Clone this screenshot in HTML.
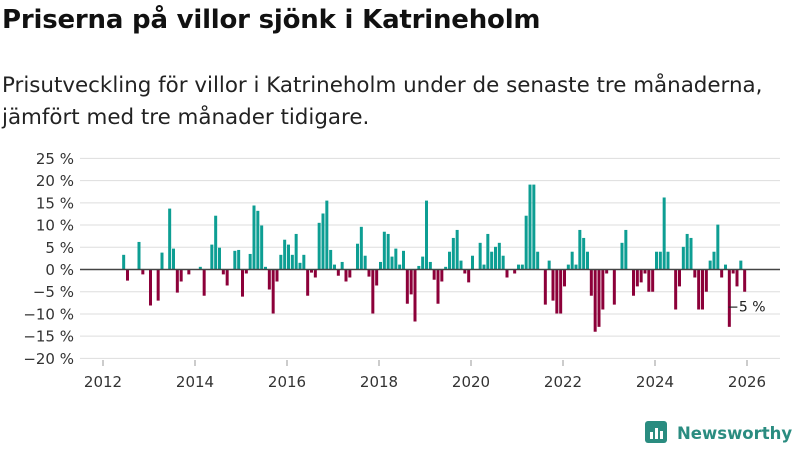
<!DOCTYPE html>
<html><head><meta charset="utf-8">
<style>
body{margin:0;background:#fff;font-family:"DejaVu Sans","Liberation Sans",sans-serif;}
#wrap{position:relative;width:800px;height:450px;overflow:hidden;}
h1{position:absolute;left:2px;top:5px;margin:0;font-size:26px;font-weight:bold;color:#111;letter-spacing:-0.2px;}
.sub{position:absolute;left:2px;top:70px;margin:0;font-size:21.4px;line-height:32px;color:#222;}
svg{position:absolute;left:0;top:0;}
</style></head><body>
<div id="wrap">
<h1>Priserna på villor sjönk i Katrineholm</h1>
<p class="sub">Prisutveckling för villor i Katrineholm under de senaste tre månaderna,<br>jämfört med tre månader tidigare.</p>
<svg id="chart" width="800" height="450"></svg>
</div>
<script>
const startYear = 2012;
const startMonth = 5; // June (0-based)
const values = [
3.3,-2.5,0,0,6.2,-1.1,0,-8.1,0,-7,3.8,0,13.7,4.7,-5.2,-2.7,0,-1.1,0,0,0.6,-5.9,0,5.6,12.1,4.9,-1.1,-3.6,0,4.2,4.4,-6.1,-0.9,3.5,14.4,13.2,9.9,0.6,-4.5,-9.9,-2.7,3.3,6.7,5.6,3.3,8,1.5,3.3,-5.9,-0.7,-1.8,10.5,12.6,15.5,4.4,1.1,-1.4,1.7,-2.7,-1.8,0,5.8,9.6,3.1,-1.6,-9.9,-3.6,1.7,8.5,8,2.9,4.7,1.1,4.2,-7.7,-5.6,-11.7,0.8,2.9,15.5,1.7,-2.3,-7.7,-2.7,0.6,4,7.1,8.9,2,-0.9,-2.9,3.1,0,6,1.1,8,4,5.1,6,3.1,-1.8,0,-0.9,1.1,1.1,12.1,19.1,19.1,4,0,-7.9,2,-7,-9.9,-9.9,-3.8,1.1,4,1.1,8.9,7.1,4,-5.9,-14,-12.9,-9,-0.9,0,-7.9,0,6,8.9,0,-5.9,-3.8,-2.9,-0.9,-5,-5,4,4,16.2,4,0,-9,-3.8,5.1,8,7.1,-1.8,-9,-9,-5,2,4,10.1,-1.8,1.1,-12.9,-0.9,-3.8,2,-5
];
const yTicks = [25,20,15,10,5,0,-5,-10,-15,-20];
const xTicks = [2012,2014,2016,2018,2020,2022,2024,2026];
const lastLabel = "−5 %";

const NS="http://www.w3.org/2000/svg";
const svg=document.getElementById('chart');
const FF='DejaVu Sans, Liberation Sans, sans-serif';
function xYear(y){return 103+(y-2012)*46;}
function yVal(v){return 269.5-v*4.445;}
function mk(t,a){const e=document.createElementNS(NS,t);for(const k in a)e.setAttribute(k,a[k]);svg.appendChild(e);return e;}
yTicks.forEach(t=>{
  const g=mk('line',{x1:80,x2:780,y1:yVal(t),y2:yVal(t),stroke:'#ddd','stroke-width':1});
  
  
  const tx=mk('text',{x:74,y:yVal(t)+5.5,'text-anchor':'end','font-size':15,fill:'#333','font-family':FF});
  tx.textContent=(t<0?'−'+(-t):t)+' %';
  
  
});
xTicks.forEach(t=>{
  const tx=mk('text',{x:xYear(t),y:387,'text-anchor':'middle','font-size':15,fill:'#333','font-family':FF});
  tx.textContent=t;
  
  
  const tk=mk('line',{x1:xYear(t),x2:xYear(t),y1:360,y2:366,stroke:'#999'});
  
  
});
values.forEach((v,i)=>{
  if(v===0)return;
  const yr=startYear+(startMonth+i)/12;
  const x=xYear(yr);
  const y0=yVal(0),y1=yVal(v);
  const r=mk('rect',{x:x,y:Math.min(y0,y1),width:3,height:Math.abs(y1-y0),fill:v>0?'#0d9e93':'#8c0039'});
  
  
});
const zl=mk('line',{x1:80,x2:780,y1:yVal(0),y2:yVal(0),stroke:'#444','stroke-width':1.5});


const li=values.length-1;
const lx=xYear(startYear+(startMonth+li)/12);
const lab=mk('text',{x:lx-16,y:yVal(values[li])+20,'font-size':14,fill:'#222','font-family':FF});
lab.textContent=lastLabel;


// logo
const lg=mk('rect',{x:645,y:421,width:22,height:22,rx:3,fill:'#2a8c80'});


[[650,432,3,7],[655,428,3,11],[660,431,3,8]].forEach(b=>{const r=mk('rect',{x:b[0],y:b[1],width:b[2],height:b[3],fill:'#fff'});});
const lt=mk('text',{x:677,y:439,'font-size':16.5,'font-weight':'bold',fill:'#2a8c80','font-family':FF});
lt.textContent='Newsworthy';


</script>
</body></html>
